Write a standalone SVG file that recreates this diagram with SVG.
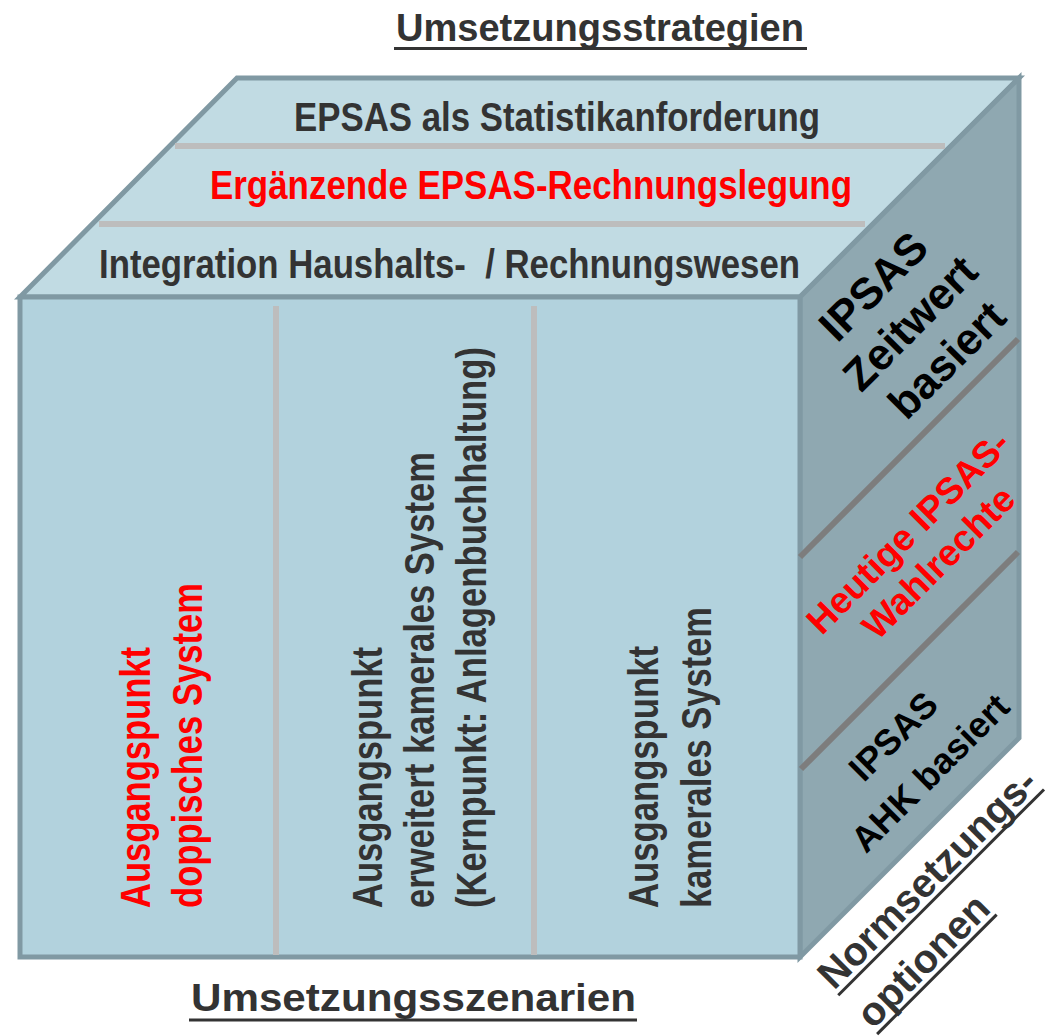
<svg xmlns="http://www.w3.org/2000/svg" width="1046" height="1036" viewBox="0 0 1046 1036">
<style>
.t{font-family:"Liberation Sans",Arial,sans-serif;font-weight:bold}
.d{fill:#333333}
.r{fill:#ff0000}
.k{fill:#000000}
.pre{white-space:pre}
.face{stroke:#8099a3;stroke-width:5;stroke-linejoin:miter}
.sep{stroke:#bdbdbd;stroke-width:6}
.dia{stroke:#7d7d7d;stroke-width:6}
.ul{stroke:#333333;stroke-width:3}
</style>
<rect width="1046" height="1036" fill="#ffffff"/>
<g id="cube">
<polygon class="face" fill="#c1dbe3" points="20,297 237,78 1019,78 800,297"/>
<polygon class="face" fill="#8fa8b1" points="800,297 1019,78 1019,738 800,957"/>
<rect class="face" fill="#b2d2dd" x="20" y="297" width="780" height="660"/>
</g>
<g id="connectors">
<line class="sep" x1="175" y1="146" x2="945" y2="146"/>
<line class="sep" x1="99" y1="224" x2="865" y2="224"/>
<line class="sep" x1="276" y1="306" x2="276" y2="955"/>
<line class="sep" x1="534" y1="306" x2="534" y2="955"/>
<line class="dia" x1="800" y1="557" x2="1018" y2="339"/>
<line class="dia" x1="801" y1="769" x2="1018" y2="552"/>
</g>
<g id="title-top">
<text class="t d" x="396" y="40.7" font-size="39" textLength="408" lengthAdjust="spacingAndGlyphs">Umsetzungsstrategien</text>
<line class="ul" x1="394" y1="48.5" x2="807" y2="48.5"/>
</g>
<g id="strategy-1">
<text class="t d" x="294" y="130.7" font-size="40" textLength="526" lengthAdjust="spacingAndGlyphs">EPSAS als Statistikanforderung</text>
</g>
<g id="strategy-2">
<text class="t r" x="210" y="199.3" font-size="40" textLength="642" lengthAdjust="spacingAndGlyphs">Ergänzende EPSAS-Rechnungslegung</text>
</g>
<g id="strategy-3">
<text class="t d pre" x="99" y="278.3" font-size="40" textLength="701" lengthAdjust="spacingAndGlyphs" xml:space="preserve">Integration Haushalts-  / Rechnungswesen</text>
</g>
<g id="scenario-1">
<text class="t r" transform="translate(150,908) rotate(-90)" font-size="43" textLength="261" lengthAdjust="spacingAndGlyphs">Ausgangspunkt</text>
<text class="t r" transform="translate(202,908) rotate(-90)" font-size="43" textLength="325" lengthAdjust="spacingAndGlyphs">doppisches System</text>
</g>
<g id="scenario-2">
<text class="t d" transform="translate(382,908) rotate(-90)" font-size="43" textLength="261" lengthAdjust="spacingAndGlyphs">Ausgangspunkt</text>
<text class="t d" transform="translate(434,908) rotate(-90)" font-size="43" textLength="456" lengthAdjust="spacingAndGlyphs">erweitert kamerales System</text>
<text class="t d" transform="translate(486,908) rotate(-90)" font-size="43" textLength="561" lengthAdjust="spacingAndGlyphs">(Kernpunkt: Anlagenbuchhaltung)</text>
</g>
<g id="scenario-3">
<text class="t d" transform="translate(658,908) rotate(-90)" font-size="43" textLength="262" lengthAdjust="spacingAndGlyphs">Ausgangspunkt</text>
<text class="t d" transform="translate(711,908) rotate(-90)" font-size="43" textLength="301" lengthAdjust="spacingAndGlyphs">kamerales System</text>
</g>
<g id="option-1" transform="translate(884,297) rotate(-45)">
<text class="t k" x="0" y="0" font-size="44" text-anchor="middle">IPSAS</text>
<text class="t k" x="0" y="52" font-size="44" text-anchor="middle">Zeitwert</text>
<text class="t k" x="0" y="104" font-size="44" text-anchor="middle">basiert</text>
</g>
<g id="option-2" transform="translate(917,541) rotate(-45)">
<text class="t r" x="0" y="0" font-size="37" text-anchor="middle">Heutige IPSAS-</text>
<text class="t r" x="0" y="43" font-size="37" text-anchor="middle">Wahlrechte</text>
</g>
<g id="option-3" transform="translate(902,745) rotate(-45)">
<text class="t k" x="0" y="0" font-size="36" text-anchor="middle">IPSAS</text>
<text class="t k" x="0" y="52" font-size="36" text-anchor="middle">AHK basiert</text>
</g>
<g id="label-norm" transform="translate(834,991) rotate(-45)">
<text class="t d" x="0" y="0" font-size="40">Normsetzungs-</text>
<line class="ul" x1="0" y1="6" x2="291" y2="6"/>
<text class="t d" x="0" y="55" font-size="40">optionen</text>
<line class="ul" x1="0" y1="61" x2="169" y2="61"/>
</g>
<g id="title-bottom">
<text class="t d" x="191" y="1011" font-size="39" textLength="445" lengthAdjust="spacingAndGlyphs">Umsetzungsszenarien</text>
<line class="ul" x1="189" y1="1020" x2="637" y2="1020"/>
</g>
</svg>
